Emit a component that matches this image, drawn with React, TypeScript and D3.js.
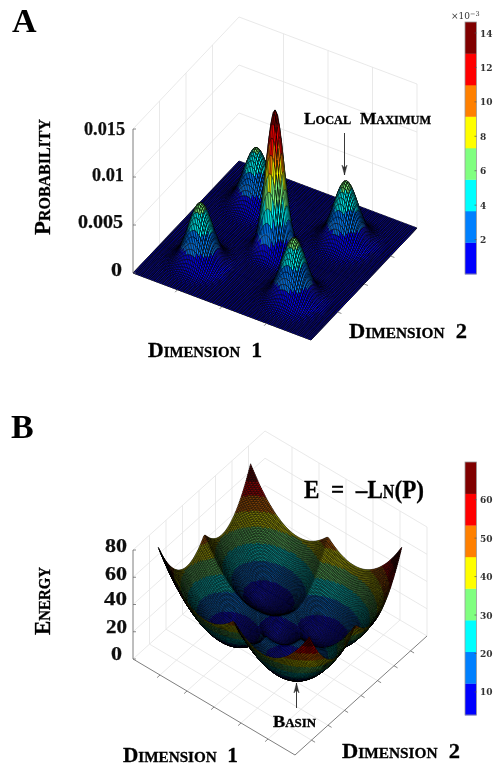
import * as d3 from "d3";
import { useMemo } from "react";

// peaks of the mixture, in dimension units
const peakDim1 = [-1.05, -1.05, 1.02, 1.05, 0];
const peakDim2 = [-1.05, 1.05, 0.96, -1.05, 0];
const peakHeight = [0.0062, 0.0058, 0.0062, 0.0062, 0.01464];
// widths seen in panel A, and the slightly tighter ones the energy bowls need
const peakSigmaA = [0.235, 0.235, 0.235, 0.235, 0.175];
const peakSigmaB = [0.215, 0.215, 0.215, 0.215, 0.16];

const jetBands = ["#0000ff", "#0080ff", "#00ffff", "#80ff80", "#ffff00", "#ff8000", "#ff0000", "#800000"];

const probTicks = [0, 0.005, 0.01, 0.015];
const probLabels = ["0", "0.005", "0.01", "0.015"];
const energyTicks = [0, 20, 40, 60, 80];
const colorTicksA = [2, 4, 6, 8, 10, 12, 14];
const colorTicksB = [10, 20, 30, 40, 50, 60];

const FONT = "'DejaVu Serif', serif";
const HEAD = "'Liberation Serif', serif";

const mixture = (sigma: number[], a: number, b: number) =>
  d3.sum(peakHeight, (h, i) => {
    const s = sigma[i];
    return h * Math.exp(-((a - peakDim1[i]) ** 2 + (b - peakDim2[i]) ** 2) / (2 * s * s));
  });
const probability = (a: number, b: number) => mixture(peakSigmaA, a, b);
const energy = (a: number, b: number) => -Math.log(mixture(peakSigmaB, a, b));

type Pt = [number, number];

// an oblique box: floor corners in pixels, plus pixels per z unit
const makeProjection = (left: Pt, bottom: Pt, right: Pt, zPx: number, d1: number[], d2: number[]) => {
  const u = d3.scaleLinear().domain(d1).range([0, 1]);
  const v = d3.scaleLinear().domain(d2).range([0, 1]);
  return (a: number, b: number, z: number): Pt => [
    left[0] + u(a) * (bottom[0] - left[0]) + v(b) * (right[0] - bottom[0]),
    left[1] + u(a) * (bottom[1] - left[1]) + v(b) * (right[1] - bottom[1]) - z * zPx,
  ];
};

const Surface = ({ project, fn, domain, n, zRange, flatStroke, steepStroke }: any) => {
  const cells = useMemo(() => {
    const grid = d3.scaleLinear().domain([0, n]).range(domain);
    const colour = d3.scaleQuantize<string>().domain(zRange).range(jetBands);
    // stretched cells show more of their fill
    const width = d3.scaleLinear().domain([1, 9]).range([flatStroke, steepStroke]).clamp(true);
    const out: { d: string; fill: string; w: number }[] = [];
    // far corner first, so nearer cells overpaint
    for (let i = 0; i < n; i++) {
      for (let j = n - 1; j >= 0; j--) {
        const a0 = grid(i), a1 = grid(i + 1), b0 = grid(j), b1 = grid(j + 1);
        const z = [fn(a0, b0), fn(a1, b0), fn(a1, b1), fn(a0, b1)];
        const p = d3.path();
        const c0 = project(a0, b0, z[0]);
        p.moveTo(c0[0], c0[1]);
        const c1 = project(a1, b0, z[1]);
        p.lineTo(c1[0], c1[1]);
        const c2 = project(a1, b1, z[2]);
        p.lineTo(c2[0], c2[1]);
        const c3 = project(a0, b1, z[3]);
        p.lineTo(c3[0], c3[1]);
        p.closePath();
        const w = width(Math.abs(c0[1] - c2[1]));
        out.push({ d: p.toString(), fill: colour(d3.mean(z) as number), w });
      }
    }
    return out;
  }, []);
  return (
    <g stroke="#000">
      {cells.map((c, i) => (
        <path key={i} d={c.d} fill={c.fill} strokeWidth={c.w} />
      ))}
    </g>
  );
};

const Box = ({ project, d1, d2, ticks1, ticks2, zTicks, zTop }: any) => {
  const seg = (p: Pt, q: Pt, stroke: string, key: string, w = 0.8) => (
    <line key={key} x1={p[0]} y1={p[1]} x2={q[0]} y2={q[1]} stroke={stroke} strokeWidth={w} />
  );
  const grid = "#e3e3e3";
  const axis = "#7f7f7f";
  const out: any[] = [];
  // floor and wall grid
  ticks1.forEach((a: number, i: number) => {
    out.push(seg(project(a, d2[0], 0), project(a, d2[1], 0), grid, "f1" + i));
    out.push(seg(project(a, d2[1], 0), project(a, d2[1], zTop), grid, "w1" + i));
  });
  ticks2.forEach((b: number, i: number) => {
    out.push(seg(project(d1[0], b, 0), project(d1[1], b, 0), grid, "f2" + i));
    out.push(seg(project(d1[0], b, 0), project(d1[0], b, zTop), grid, "w2" + i));
  });
  zTicks.forEach((z: number, i: number) => {
    out.push(seg(project(d1[0], d2[0], z), project(d1[0], d2[1], z), grid, "zl" + i));
    out.push(seg(project(d1[0], d2[1], z), project(d1[1], d2[1], z), grid, "zr" + i));
  });
  out.push(seg(project(d1[1], d2[1], 0), project(d1[1], d2[1], zTop), grid, "wr"));
  out.push(seg(project(d1[0], d2[0], 0), project(d1[1], d2[0], 0), axis, "a1", 1));
  out.push(seg(project(d1[1], d2[0], 0), project(d1[1], d2[1], 0), axis, "a2", 1));
  out.push(seg(project(d1[0], d2[0], 0), project(d1[0], d2[0], zTop), axis, "a3", 1));
  return <g>{out}</g>;
};

const BoxTicks = ({ project, d1, d2, ticks1, ticks2, zTicks }: any) => {
  const axis = "#6a6a6a";
  const out: any[] = [];
  const step = 0.022;
  ticks1.forEach((a: number, i: number) => {
    const p = project(a, d2[0], 0);
    const q = project(a, d2[0] - step * (d2[1] - d2[0]), 0);
    out.push(<line key={"t1" + i} x1={p[0]} y1={p[1]} x2={q[0]} y2={q[1]} stroke={axis} strokeWidth={0.8} />);
  });
  ticks2.forEach((b: number, i: number) => {
    const p = project(d1[1], b, 0);
    const q = project(d1[1] + step * (d1[1] - d1[0]), b, 0);
    out.push(<line key={"t2" + i} x1={p[0]} y1={p[1]} x2={q[0]} y2={q[1]} stroke={axis} strokeWidth={0.8} />);
  });
  zTicks.forEach((z: number, i: number) => {
    const p = project(d1[0], d2[0], z);
    out.push(<line key={"tz" + i} x1={p[0]} y1={p[1]} x2={p[0] + 3} y2={p[1]} stroke={axis} strokeWidth={0.8} />);
  });
  return <g>{out}</g>;
};

const Colorbar = ({ x, y0, y1, domain, ticks }: any) => {
  const y = d3.scaleLinear().domain(domain).range([y0, y1]);
  const edges = d3.range(9).map((i) => domain[0] + ((domain[1] - domain[0]) * i) / 8);
  return (
    <g>
      {jetBands.map((c, i) => (
        <rect key={c} x={x} y={y(edges[i + 1])} width={11.5} height={y(edges[i]) - y(edges[i + 1]) + 0.3} fill={c} />
      ))}
      <rect x={x} y={y1} width={11.5} height={y0 - y1} fill="none" stroke="#9a9a9a" strokeWidth={0.8} />
      {ticks.map((t: number) => (
        <g key={t}>
          <line x1={x + 9.5} x2={x + 11.5} y1={y(t)} y2={y(t)} stroke="#555" strokeWidth={0.7} />
          <text x={x + 15} y={y(t) + 3.5} fontSize={9} fontWeight={700} fill="#333" fontFamily={FONT}>
            {t}
          </text>
        </g>
      ))}
    </g>
  );
};

const Label = ({ x, y, w, size, rotate, children }: any) => (
  <text
    x={rotate ? 0 : x}
    y={rotate ? 0 : y}
    transform={rotate ? `translate(${x},${y}) rotate(-90)` : undefined}
    fontSize={size}
    fontWeight={700}
    fontFamily={HEAD}
    fontVariant="small-caps"
    textLength={w}
    lengthAdjust="spacingAndGlyphs"
    fill="#050505"
    stroke="#050505"
    strokeWidth={0.3}
    style={{ whiteSpace: "pre" }}
  >
    {children}
  </text>
);

const Num = ({ x, y, w, children }: any) => (
  <text x={x} y={y} fontSize={19} fontWeight={700} fontFamily={HEAD} textLength={w} lengthAdjust="spacingAndGlyphs" fill="#111" stroke="#111" strokeWidth={0.25}>
    {children}
  </text>
);

const Arrow = ({ x, y0, y1 }: any) => {
  const dir = y1 > y0 ? -1 : 1;
  return (
    <g stroke="#222" strokeWidth={0.9} fill="#333">
      <line x1={x} x2={x} y1={y0} y2={y1} />
      <path d={`M${x},${y1}L${x - 2.6},${y1 + dir * 10}L${x},${y1 + dir * 7}L${x + 2.6},${y1 + dir * 10}Z`} strokeWidth={0.4} />
    </g>
  );
};

const d1A = [-2, 2];
const d2A = [-2, 2];
const d1B = [-3, 3];
const d2B = [-4, 4];
const projectA = makeProjection([133, 273], [311, 340], [417, 228], 9600, d1A, d2A);
const projectB = makeProjection([133, 659], [295, 755], [427, 636], 1.3625, d1B, d2B);

export default function App() {
  return (
    <svg width={494} height={766} style={{ position: "absolute", left: 0, top: 0, background: "#fff" }}>
      <defs>
        <filter id="soft" x="0" y="0" width="100%" height="100%">
          <feGaussianBlur stdDeviation="0.4" />
        </filter>
      </defs>
      <g filter="url(#soft)">
        <text x={12} y={32} fontSize={34} fontWeight={700} fontFamily={HEAD} fill="#000">A</text>
        <Box project={projectA} d1={d1A} d2={d2A} ticks1={[-1, 0, 1]} ticks2={[-1, 0, 1]} zTicks={probTicks} zTop={0.015} />
        <Surface project={projectA} fn={probability} domain={[-2, 2]} n={110} zRange={[0, 0.01464]} flatStroke={0.72} steepStroke={0.4} />
        <BoxTicks project={projectA} d1={d1A} d2={d2A} ticks1={[-1, 0, 1]} ticks2={[-1, 0, 1]} zTicks={probTicks} />
        {probTicks.map((t, i) => (
          <Num key={t} x={[111, 78, 92, 84][i]} y={[276, 228, 181, 135][i]} w={[11, 45, 32, 41][i]}>
            {probLabels[i]}
          </Num>
        ))}
        <Label x={50} y={235} w={116} size={23} rotate>Probability</Label>
        <Label x={148} y={357} w={114} size={22}>Dimension  1</Label>
        <Label x={349} y={338} w={118} size={22}>Dimension  2</Label>
        <Label x={304} y={124} w={127} size={17}>Local  Maximum</Label>
        <Arrow x={344.5} y0={133} y1={175} />
        <Colorbar x={465} y0={274} y1={22} domain={[0, 14.64]} ticks={colorTicksA} />
        <text x={451} y={19} fontSize={9} fill="#333" fontFamily={FONT}>
          ×10<tspan dy={-3} fontSize={6.5}>−3</tspan>
        </text>

        <text x={11} y={438} fontSize={34} fontWeight={700} fontFamily={HEAD} fill="#000">B</text>
        <Box project={projectB} d1={d1B} d2={d2B} ticks1={[-2, -1, 0, 1, 2]} ticks2={[-3, -2, -1, 0, 1, 2, 3]} zTicks={energyTicks} zTop={80} />
        <Surface project={projectB} fn={energy} domain={[-2.8, 2.8]} n={170} zRange={[4, 69.8]} flatStroke={0.58} steepStroke={0.58} />
        <BoxTicks project={projectB} d1={d1B} d2={d2B} ticks1={[-2, -1, 0, 1, 2]} ticks2={[-3, -2, -1, 0, 1, 2, 3]} zTicks={energyTicks} />
        {energyTicks.map((t, i) => (
          <Num key={t} x={[111, 106, 104, 105, 105][i]} y={[660, 633, 605, 580, 552][i]} w={[11, 21, 23, 22, 22][i]}>
            {t}
          </Num>
        ))}
        <Label x={50} y={635} w={68} size={23} rotate>Energy</Label>
        <Label x={123} y={761.5} w={115} size={21}>Dimension  1</Label>
        <Label x={342} y={758} w={118} size={22}>Dimension  2</Label>
        <Label x={273} y={727} w={43} size={17}>Basin</Label>
        <Label x={304} y={498} w={120} size={26}>E  =  –Ln(P)</Label>
        <Arrow x={296.5} y0={708} y1={683} />
        <Colorbar x={465} y0={715} y1={462} domain={[4, 69.8]} ticks={colorTicksB} />
      </g>
    </svg>
  );
}
